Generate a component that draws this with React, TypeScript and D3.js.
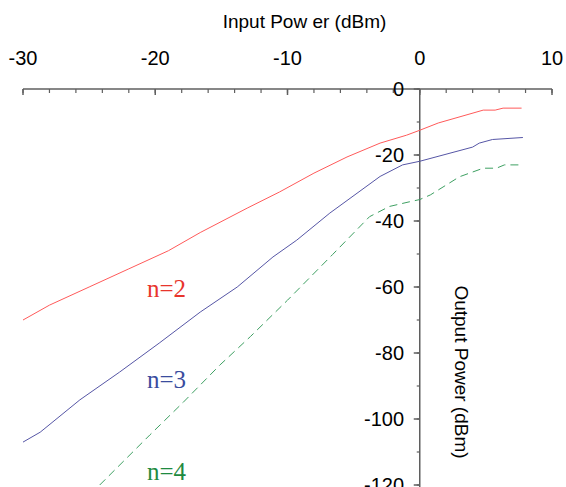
import React from "react";
import * as d3 from "d3";

const xTicksMajor = [-30, -20, -10, 0, 10];
const xTicksMinor = d3.range(-30, 10.01, 2);
const yTicksMajor = [0, -20, -40, -60, -80, -100, -120];
const yTicksMinor = d3.range(0, -120.01, -10);

const n2X = [-30, -28, -25, -22, -19, -16.6, -13, -10.6, -8, -5.5, -3, -1, 0, 1.4, 4.8, 5.7, 6.3, 7.7];
const n2Y = [-70, -65.5, -60, -54.5, -49, -43.5, -36, -31.2, -25.5, -20.6, -16.4, -14, -12.5, -10.3, -6.4, -6.4, -5.8, -5.8];

const n3X = [-30, -28.7, -25.7, -22.7, -19.7, -16.6, -13.8, -11.1, -9.3, -6.8, -3, -1.3, 0, 4.0, 4.5, 5.5, 7.8];
const n3Y = [-107, -104, -94.2, -85.8, -77, -67.6, -60, -50.9, -45.8, -37.6, -26.5, -23, -21.9, -17.6, -16.4, -15.3, -14.7];

const n4X = [-24.2, -20.4, -17.9, -15.1, -12.8, -10, -6.6, -3.8, -2.3, -0.8, 0, 0.8, 3, 4.8, 5.8, 6.4, 7.7];
const n4Y = [-120, -104.8, -95, -83.6, -75, -64, -50.2, -38.7, -35.6, -34.2, -33.5, -32.1, -26.6, -24, -24, -23, -23];

const seriesLabels = ["n=2", "n=3", "n=4"];

export default function App() {
  const W = 566, H = 487;
  const x = d3.scaleLinear().domain([-30, 10]).range([23, 552]);
  const y = d3.scaleLinear().domain([0, -120]).range([89, 485]);
  const line = d3.line<[number, number]>().x(d => x(d[0])).y(d => y(d[1]));
  const pts = (xs: number[], ys: number[]) => xs.map((v, i) => [v, ys[i]] as [number, number]);
  const axisColor = "#5f5f5f";
  const font = "'Liberation Sans', Arial, sans-serif";
  const x0 = x(0);
  const y0 = y(0);
  return (
    <svg width={W} height={H} style={{ position: "absolute", left: 0, top: 0, background: "#fff" }}>
      <rect x={0} y={0} width={W} height={H} fill="#fff" />
      {/* x axis */}
      <text x={(x(-30) + x(10)) / 2 + 17} y={28} textAnchor="middle" fontFamily={font} fontSize={19} fill="#000">Input Pow er (dBm)</text>
      <line x1={x(-30)} x2={x(10)} y1={y0} y2={y0} stroke={axisColor} strokeWidth={1.5} />
      {xTicksMinor.map(t => (
        <line key={"xm" + t} x1={x(t)} x2={x(t)} y1={y0} y2={y0 + 4} stroke={axisColor} strokeWidth={1.2} />
      ))}
      {xTicksMajor.map(t => (
        <g key={"xM" + t}>
          <line x1={x(t)} x2={x(t)} y1={y0} y2={y0 + 6} stroke={axisColor} strokeWidth={1.5} />
          <text x={x(t)} y={65} textAnchor="middle" fontFamily={font} fontSize={20} fill="#000">{t}</text>
        </g>
      ))}
      {/* y axis */}
      <line x1={x0} x2={x0} y1={y0} y2={H} stroke={axisColor} strokeWidth={1.5} />
      {yTicksMinor.map(t => (
        <line key={"ym" + t} x1={x0 - 3} x2={x0} y1={y(t)} y2={y(t)} stroke={axisColor} strokeWidth={1.2} />
      ))}
      {yTicksMajor.map(t => (
        <g key={"yM" + t}>
          <line x1={x0 - 6} x2={x0} y1={y(t)} y2={y(t)} stroke={axisColor} strokeWidth={1.5} />
          <text x={404} y={y(t)} dy="0.35em" textAnchor="end" fontFamily={font} fontSize={20} fill="#000">{t}</text>
        </g>
      ))}
      <text transform={`translate(455, 372) rotate(90)`} textAnchor="middle" fontFamily={font} fontSize={19} fill="#000">Output Power (dBm)</text>
      {/* series */}
      <path d={line(pts(n2X, n2Y)) || ""} fill="none" stroke="#ff5a5a" strokeWidth={1} />
      <path d={line(pts(n3X, n3Y)) || ""} fill="none" stroke="#5656a6" strokeWidth={1} />
      <path d={line(pts(n4X, n4Y)) || ""} fill="none" stroke="#3ea062" strokeWidth={1} strokeDasharray="8,5" />
      <text x={147} y={297} fontFamily="'Liberation Serif', 'Times New Roman', serif" fontSize={25} fill="#e8352c">{seriesLabels[0]}</text>
      <text x={147} y={388} fontFamily="'Liberation Serif', 'Times New Roman', serif" fontSize={25} fill="#3a4c9e">{seriesLabels[1]}</text>
      <text x={147} y={480} fontFamily="'Liberation Serif', 'Times New Roman', serif" fontSize={25} fill="#1e8a40">{seriesLabels[2]}</text>
    </svg>
  );
}
